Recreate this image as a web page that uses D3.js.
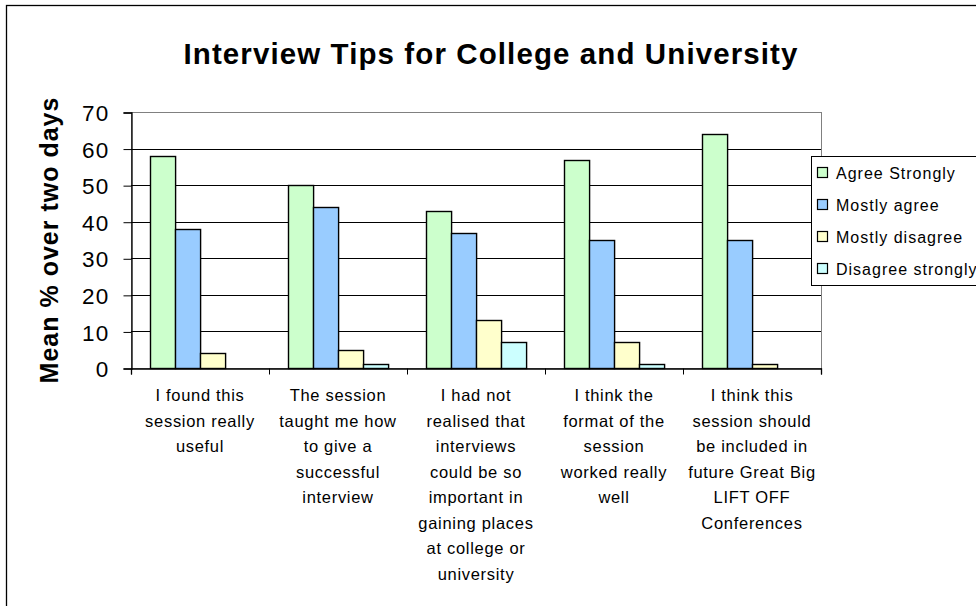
<!DOCTYPE html>
<html>
<head>
<meta charset="utf-8">
<script src="https://cdn.jsdelivr.net/npm/d3@7"></script>
<style>
  html, body { margin: 0; padding: 0; background: #fff; }
  svg { display: block; font-family: Arial, "Liberation Sans", sans-serif; }
</style>
</head>
<body>
<svg id="chart" width="976" height="606"></svg>
<script>
// ---- data ----
const categories = [
  ["I found this", "session really", "useful"],
  ["The session", "taught me how", "to give a", "successful", "interview"],
  ["I had not", "realised that", "interviews", "could be so", "important in", "gaining places", "at college or", "university"],
  ["I think the", "format of the", "session", "worked really", "well"],
  ["I think this", "session should", "be included in", "future Great Big", "LIFT OFF", "Conferences"]
];
const seriesNames = ["Agree Strongly", "Mostly agree", "Mostly disagree", "Disagree strongly"];
const agreeStrongly    = [58, 50, 43, 57, 64];
const mostlyAgree      = [38, 44, 37, 35, 35];
const mostlyDisagree   = [4, 5, 13, 7, 1];
const disagreeStrongly = [0, 1, 7, 1, 0];
const seriesColors = ["#CCFFCC", "#99CCFF", "#FFFFCC", "#CCFFFF"];
const yTicks = [0, 10, 20, 30, 40, 50, 60, 70];
const titleText = "Interview Tips for College and University";
const yTitle = "Mean % over two days";

const seriesValues = [agreeStrongly, mostlyAgree, mostlyDisagree, disagreeStrongly];
const catIdx = categories.map((c, i) => i);

// ---- layout ----
const plot = { left: 131, right: 821, top: 112, bottom: 368 };
const svg = d3.select("#chart");

// outer chart border (extends past right/bottom)
svg.append("rect")
  .attr("x", 6.5).attr("y", 5.5)
  .attr("width", 1000).attr("height", 700)
  .attr("fill", "none").attr("stroke", "#000").attr("stroke-width", 1.3);

const y = d3.scaleLinear().domain([0, 70]).range([plot.bottom, plot.top]);
const x0 = d3.scaleBand().domain(catIdx).range([plot.left, plot.right]).paddingInner(0).paddingOuter(0);
const x1 = d3.scaleBand().domain(d3.range(seriesNames.length)).range([0, x0.bandwidth()])
  .paddingInner(0).paddingOuter(0.75);

// plot area border (gray)
svg.append("rect")
  .attr("x", plot.left + 0.5).attr("y", Math.round(y(70)) + 0.5)
  .attr("width", plot.right - plot.left).attr("height", plot.bottom - Math.round(y(70)))
  .attr("fill", "#fff").attr("stroke", "#808080").attr("stroke-width", 1);

// gridlines
svg.append("g").selectAll("line")
  .data(yTicks.filter(t => t > 0 && t < 70))
  .join("line")
  .attr("x1", plot.left).attr("x2", plot.right)
  .attr("y1", d => Math.round(y(d)) + 0.5).attr("y2", d => Math.round(y(d)) + 0.5)
  .attr("stroke", "#000").attr("stroke-width", 1);

// bars
const groups = svg.append("g").selectAll("g")
  .data(catIdx).join("g")
  .attr("transform", d => `translate(${x0(d)},0)`);
groups.selectAll("rect")
  .data(ci => seriesValues.map((vals, si) => ({ si, v: vals[ci] })))
  .join("rect")
  .filter(d => d.v > 0)
  .attr("x", d => Math.round(x1(d.si)) + 0.5)
  .attr("y", d => Math.round(y(d.v)) + 0.5)
  .attr("width", x1.bandwidth())
  .attr("height", d => Math.round(y(0)) - Math.round(y(d.v)))
  .attr("fill", d => seriesColors[d.si])
  .attr("stroke", "#000").attr("stroke-width", 1.4);

// y axis
const yAxis = d3.axisLeft(y).tickValues(yTicks).tickSize(8).tickPadding(14).tickFormat(d3.format("d"));
const gy = svg.append("g").attr("transform", `translate(${plot.left + 0.5},0.5)`).call(yAxis);
gy.select(".domain").attr("stroke", "#000").attr("stroke-width", 1.3);
gy.selectAll(".tick line").attr("stroke", "#000");
gy.selectAll(".tick text")
  .attr("font-size", 22.5).attr("font-family", "Arial, 'Liberation Sans', sans-serif")
  .attr("fill", "#000").attr("letter-spacing", 1.2).attr("dy", "0.36em");

// x axis
const xAxis = d3.axisBottom(x0).tickSize(6).tickFormat("");
const gx = svg.append("g").attr("transform", `translate(0,${plot.bottom + 0.5})`).call(xAxis);
gx.select(".domain").attr("stroke", "#000").attr("stroke-width", 1.3);
// category boundary ticks
gx.selectAll(".tick").remove();
gx.selectAll("line.bt")
  .data(catIdx.map(i => x0(i)).concat([plot.right]))
  .join("line").attr("class", "bt")
  .attr("x1", d => Math.round(d) + 0.5).attr("x2", d => Math.round(d) + 0.5)
  .attr("y1", 0).attr("y2", 6).attr("stroke", "#000");

// category labels
const labels = svg.append("g").selectAll("text")
  .data(catIdx).join("text")
  .attr("x", d => x0(d) + x0.bandwidth() / 2)
  .attr("y", 401)
  .attr("text-anchor", "middle")
  .attr("font-size", 16.5).attr("letter-spacing", 0.7).attr("fill", "#000");
labels.selectAll("tspan")
  .data(d => categories[d])
  .join("tspan")
  .attr("x", function () { return d3.select(this.parentNode).attr("x"); })
  .attr("dy", (d, i) => i === 0 ? 0 : 25.5)
  .text(d => d);

// title
svg.append("text")
  .attr("x", 491).attr("y", 64)
  .attr("text-anchor", "middle")
  .attr("font-size", 29.5).attr("font-weight", "bold").attr("letter-spacing", 1.1)
  .attr("fill", "#000")
  .text(titleText);

// y title
svg.append("text")
  .attr("transform", "translate(58,240) rotate(-90)")
  .attr("text-anchor", "middle")
  .attr("font-size", 25).attr("font-weight", "bold").attr("letter-spacing", 1)
  .attr("fill", "#000")
  .text(yTitle);

// legend
const lg = svg.append("g");
lg.append("rect")
  .attr("x", 811.5).attr("y", 156.5).attr("width", 300).attr("height", 129)
  .attr("fill", "#fff").attr("stroke", "#000").attr("stroke-width", 1);
const items = lg.selectAll("g.item").data(seriesNames).join("g").attr("class", "item")
  .attr("transform", (d, i) => `translate(0,${173 + i * 32})`);
items.append("rect")
  .attr("x", 817.5).attr("y", -5.5).attr("width", 10).attr("height", 10)
  .attr("fill", (d, i) => seriesColors[i]).attr("stroke", "#000").attr("stroke-width", 1.2);
items.append("text")
  .attr("x", 836).attr("y", 6)
  .attr("font-size", 16).attr("letter-spacing", 1).attr("fill", "#000")
  .text(d => d);
</script>
</body>
</html>
